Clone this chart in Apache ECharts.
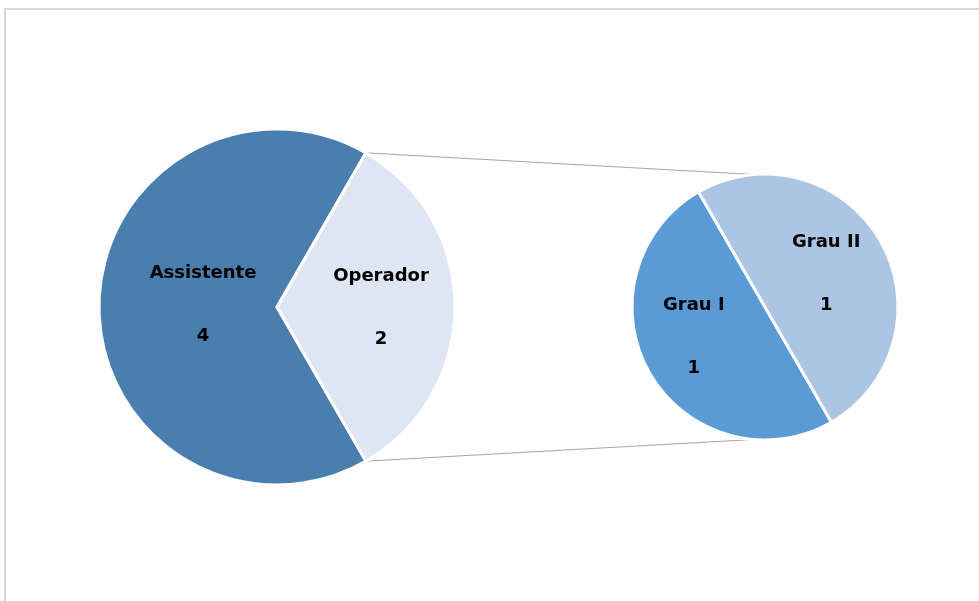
<!DOCTYPE html>
<html>
<head>
<meta charset="utf-8">
<script src="https://cdn.jsdelivr.net/npm/echarts@6/dist/echarts.min.js"></script>
<style>
  html, body { margin: 0; padding: 0; background: #fff; }
  #chart { width: 979px; height: 601px; }
</style>
</head>
<body>
<div id="chart"></div>
<script>
// Main pie: job roles
const mainCategories = ['Assistente', 'Operador'];
const mainValues = [4, 2];
// Secondary pie: breakdown of the split-off slice
const subCategories = ['Grau I', 'Grau II'];
const subValues = [1, 1];

const mainColors = ['#4a7eaf', '#dee6f3'];
const subColors = ['#5b9bd5', '#adc5e5'];

// Layout of the two pies
const mainCenter = [277, 307], mainRadius = 178;
const subCenter = [765, 307], subRadius = 133;

// Label nudges (dx, dy) per slice
const mainLabelShift = [[18, -2], [12, 1]];
const subLabelShift = [[-11, -5], [1, 2]];

// The split-off slice is centred on the 3 o'clock direction
const mainTotal = mainValues.reduce((a, b) => a + b, 0);
const splitHalf = (mainValues[1] / mainTotal) * 180; // half-angle in degrees
const mainStart = 360 - splitHalf;                   // first slice starts below split slice

const deg = Math.PI / 180;
const topA = [mainCenter[0] + mainRadius * Math.cos(splitHalf * deg),
              mainCenter[1] - mainRadius * Math.sin(splitHalf * deg)];
const botA = [mainCenter[0] + mainRadius * Math.cos(splitHalf * deg),
              mainCenter[1] + mainRadius * Math.sin(splitHalf * deg)];
const connAngle = 95;
const topB = [subCenter[0] + subRadius * Math.cos(connAngle * deg),
              subCenter[1] - subRadius * Math.sin(connAngle * deg)];
const botB = [subCenter[0] + subRadius * Math.cos(connAngle * deg),
              subCenter[1] + subRadius * Math.sin(connAngle * deg)];

const labelStyle = {
  show: true,
  position: 'inside',
  formatter: '{b}\n\n{c}',
  fontFamily: 'DejaVu Sans',
  fontWeight: 'bold',
  fontSize: 18,
  lineHeight: 31.5,
  color: '#000'
};

const chart = echarts.init(document.getElementById('chart'), null, { renderer: 'canvas' });
chart.setOption({
  backgroundColor: '#ffffff',
  animation: false,
  graphic: [
    {
      type: 'rect',
      shape: { x: 5, y: 9, width: 1000, height: 700 },
      style: { fill: 'none', stroke: '#d9d9d9', lineWidth: 2 },
      z: 0
    },
    {
      type: 'line',
      shape: { x1: topA[0], y1: topA[1], x2: topB[0], y2: topB[1] },
      style: { stroke: '#a6a6a6', lineWidth: 1 },
      z: 1
    },
    {
      type: 'line',
      shape: { x1: botA[0], y1: botA[1], x2: botB[0], y2: botB[1] },
      style: { stroke: '#a6a6a6', lineWidth: 1 },
      z: 1
    }
  ],
  series: [
    {
      type: 'pie',
      center: mainCenter,
      radius: mainRadius,
      startAngle: mainStart,
      clockwise: true,
      silent: true,
      label: labelStyle,
      labelLine: { show: false },
      labelLayout: p => ({ dx: mainLabelShift[p.dataIndex][0], dy: mainLabelShift[p.dataIndex][1] }),
      itemStyle: { borderColor: '#ffffff', borderWidth: 3 },
      data: mainCategories.map((n, i) => ({ name: n, value: mainValues[i], itemStyle: { color: mainColors[i] } }))
    },
    {
      type: 'pie',
      center: subCenter,
      radius: subRadius,
      startAngle: 300,
      clockwise: true,
      silent: true,
      label: labelStyle,
      labelLine: { show: false },
      labelLayout: p => ({ dx: subLabelShift[p.dataIndex][0], dy: subLabelShift[p.dataIndex][1] }),
      itemStyle: { borderColor: '#ffffff', borderWidth: 3 },
      data: subCategories.map((n, i) => ({ name: n, value: subValues[i], itemStyle: { color: subColors[i] } }))
    }
  ]
});
</script>
</body>
</html>
